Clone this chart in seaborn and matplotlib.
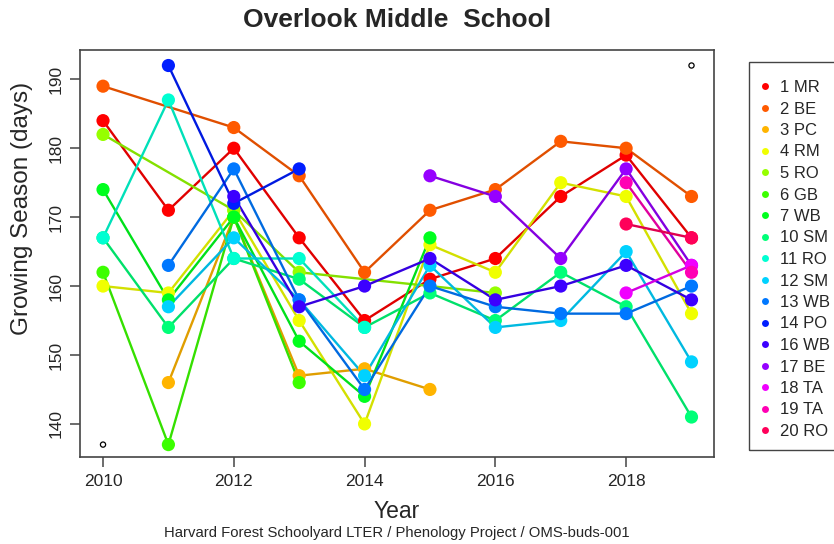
import colorsys

import numpy as np
import pandas as pd
import matplotlib
matplotlib.use("Agg")
import matplotlib.pyplot as plt
from matplotlib.lines import Line2D
from matplotlib.patches import Rectangle
import seaborn as sns

nan = np.nan

# Growing season length (days) per tree, 2010-2019
years = [2010, 2011, 2012, 2013, 2014, 2015, 2016, 2017, 2018, 2019]
sites = ["1 MR", "2 BE", "3 PC", "4 RM", "5 RO", "6 GB", "7 WB", "10 SM", "11 RO",
         "12 SM", "13 WB", "14 PO", "16 WB", "17 BE", "18 TA", "19 TA", "20 RO"]

mr1 = [184, 171, 180, 167, 155, 161, 164, 173, 179, 167]
be2 = [189, nan, 183, 176, 162, 171, 174, 181, 180, 173]
pc3 = [nan, 146, 170, 147, 148, 145, nan, nan, nan, nan]
rm4 = [160, 159, 171, 155, 140, 166, 162, 175, 173, 156]
ro5 = [182, nan, 171, 162, nan, nan, 159, nan, nan, nan]
gb6 = [162, 137, 170, 146, nan, nan, nan, nan, nan, nan]
wb7 = [174, 158, 170, 152, 144, 167, nan, nan, nan, nan]
sm10 = [167, 154, 164, 161, 154, 159, 155, 162, 157, 141]
ro11 = [167, 187, 164, 164, 154, nan, nan, nan, nan, nan]
sm12 = [nan, 157, 167, 158, 147, 163, 154, 155, 165, 149]
wb13 = [nan, 163, 177, 158, 145, 160, 157, 156, 156, 160]
po14 = [nan, 192, 172, 177, nan, nan, nan, nan, nan, nan]
wb16 = [nan, nan, 173, 157, 160, 164, 158, 160, 163, 158]
be17 = [nan, nan, nan, nan, nan, 176, 173, 164, 177, 163]
ta18 = [nan, nan, nan, nan, nan, nan, nan, nan, 159, 163]
ta19 = [nan, nan, nan, nan, nan, nan, nan, nan, 175, 162]
ro20 = [nan, nan, nan, nan, nan, nan, nan, nan, 169, 167]

series = [mr1, be2, pc3, rm4, ro5, gb6, wb7, sm10, ro11,
          sm12, wb13, po14, wb16, be17, ta18, ta19, ro20]

# corner markers of the plotting range
range_x = [2010, 2019]
range_y = [137, 192]

rows = []
for site, vals in zip(sites, series):
    for yr, v in zip(years, vals):
        if not np.isnan(v):
            rows.append({"site": site, "year": yr, "days": v})
df = pd.DataFrame(rows)

# rainbow palette, one hue per tree; connecting lines a shade deeper
n = len(sites)
colors = [colorsys.hsv_to_rgb(i / n, 1.0, 1.0) for i in range(n)]
palette = dict(zip(sites, colors))
line_palette = {s: tuple(c * 0.88 for c in palette[s]) for s in sites}

sns.set_style("white")
plt.rcParams["font.family"] = ["Liberation Sans", "DejaVu Sans"]

W, H = 834, 544
fig = plt.figure(figsize=(W / 100, H / 100), dpi=100)
ax = fig.add_axes([80 / W, 1 - 457 / H, (714 - 80) / W, (457 - 50) / H])

sns.lineplot(data=df, x="year", y="days", hue="site", hue_order=sites,
             palette=line_palette, linewidth=1.7, estimator=None,
             errorbar=None, legend=False, sort=True, ax=ax)
sns.scatterplot(data=df, x="year", y="days", hue="site", hue_order=sites,
                palette=palette, s=90, linewidth=0, legend=False, ax=ax,
                zorder=3)

ax.scatter(range_x, range_y, s=14, facecolors="none", edgecolors="black",
           linewidths=0.9, zorder=5)

ax.set_xlim(2009.648, 2019.344)
ax.set_ylim(135.2, 194.25)
ax.set_xticks([2010, 2012, 2014, 2016, 2018])
ax.set_yticks([140, 150, 160, 170, 180, 190])
ax.tick_params(axis="both", direction="out", length=7, width=1.1,
               color="#444444", labelsize=12.5, left=True, bottom=True)
ax.tick_params(axis="x", pad=5)
ax.tick_params(axis="y", pad=5)
for lab in ax.get_yticklabels():
    lab.set_rotation(90)
    lab.set_va("center")
ax.set_xlabel("")
ax.set_ylabel("")
for sp in ax.spines.values():
    sp.set_visible(True)
    sp.set_color("#444444")
    sp.set_linewidth(1.2)

fig.text(397 / W, 1 - 20 / H, "Overlook Middle  School", ha="center",
         va="center", fontsize=19, fontweight="bold")
fig.text(397 / W, 1 - 512 / H, "Year", ha="center", va="center", fontsize=16.5)
fig.text(22 / W, 1 - 208 / H, "Growing Season (days)", ha="center",
         va="center", rotation=90, fontsize=17.5)
fig.text(397 / W, 1 - 533 / H,
         "Harvard Forest Schoolyard LTER / Phenology Project / OMS-buds-001",
         ha="center", va="center", fontsize=10.7)

# legend box with dot keys
fig.patches.append(Rectangle((749 / W, 1 - 450 / H), 100 / W, (450 - 62) / H,
                             transform=fig.transFigure, fill=False,
                             edgecolor="#444444", linewidth=1.0))
handles = [Line2D([], [], linestyle="none", marker="o", markersize=5,
                  markeredgewidth=0, color=palette[s]) for s in sites]
fig.legend(handles, sites, loc="upper left",
           bbox_to_anchor=(757 / W, 1 - 80 / H), bbox_transform=fig.transFigure,
           frameon=False, fontsize=12, handlelength=0.9, handletextpad=0.5,
           labelspacing=0.39, borderpad=0, borderaxespad=0)

fig.savefig("out.png", dpi=100)
